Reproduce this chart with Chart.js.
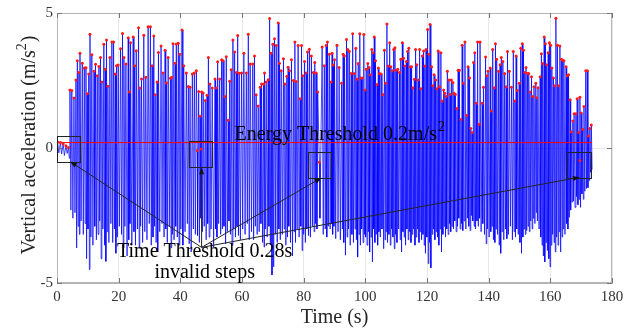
<!DOCTYPE html>
<html>
<head>
<meta charset="utf-8">
<script src="https://cdn.jsdelivr.net/npm/chart.js@4.4.1/dist/chart.umd.min.js"></script>
<style>
  html, body { margin: 0; padding: 0; background: #fff; }
</style>
</head>
<body>
<canvas id="accChart" width="639" height="332"></canvas>
<script>
// step peaks (time in s, peak in m/s^2), trough follows each peak
const stepTimes = [
  4.2,4.8,5.5,6.15,6.6,7.1,7.45,8.2,8.85,9.4,
  9.8,10.3,10.7,11.3,12.0,12.5,13.05,13.6,14.1,14.55,
  15.2,15.65,16.05,16.5,17.15,17.8,18.35,18.9,19.3,19.85,
  20.6,21.25,21.7,22.35,23.1,23.45,23.85,24.7,25.2,25.7,
  26.45,26.85,27.4,28.15,28.8,29.55,30.3,30.85,31.4,31.85,
  32.45,32.9,33.75,34.4,35.05,35.5,36.05,36.8,37.2,37.65,
  38.3,38.7,39.35,39.8,40.55,41.1,41.95,42.6,43.15,43.9,
  44.55,45.2,45.95,46.4,46.9,47.4,48.1,48.65,49.1,49.6,
  50.35,51.25,51.65,52.1,52.75,53.4,53.85,54.45,54.9,55.55,
  56.0,56.5,57.05,57.6,58.15,58.6,59.1,59.85,60.6,61.4,
  62.05,62.65,63.5,64.05,64.6,65.25,65.9,66.35,67.0,67.3,
  67.85,68.5,68.95,69.45,70.0,70.55,71.1,71.75,72.15,72.7,
  73.45,73.9,74.55,74.95,75.4,76.05,76.7,77.15,77.55,78.2,
  78.85,79.3,79.7,80.3,80.8,81.25,81.85,82.5,83.15,83.6,
  84.05,84.55,86.0,86.7,87.3,87.7,88.3,88.9,89.2,89.6,
  90.0,90.8,91.5,92.3,92.8,93.2,93.9,94.3,94.8,95.4,
  95.9,96.4,96.9,97.3,97.7,98.2,98.6,99.0,99.5,99.9,
  100.3,100.8,101.2,101.6,102.1,102.5,102.9,103.3,103.8,104.2,
  104.6,105.1,105.7,106.2,106.6,107.0,107.4,107.9,108.3,108.7,
  109.2,109.6,110.0,110.5,111.1,111.5,112.0,112.4,112.8,113.3,
  113.7,114.1,114.6,115.0,115.4,115.9,116.3,116.7,117.2,117.6,
  118.0,118.5,118.9,119.3,119.7,120.2,120.6,121.0,121.5,121.9,
  122.3,122.8,123.2,123.6,124.1,124.5,124.9,125.4,125.8,126.2,
  126.6,127.1,127.5,127.9,128.4,128.8,129.2,129.7,130.1,130.5,
  131.0,131.4,131.8,132.3,132.9,133.3,133.8,134.2,134.6,135.1,
  135.5,136.0,136.4,136.9,137.2,137.9,138.3,139.0,139.4,139.8,
  140.5,140.9,141.3,141.8,142.2,142.6,143.2,143.7,144.1,144.6,
  145.2,145.7,146.1,146.7,147.4,148.0,148.5,148.9,149.3,149.9,
  150.4,150.9,151.3,151.7,152.1,152.6,153.0,153.4,153.9,154.3,
  154.7,155.3,155.6,156.0,156.7,157.1,157.5,158.0,158.4,158.8,
  159.3,159.7,160.1,160.5,161.0,161.4,161.8,162.3,162.7,163.1,
  163.6,164.0,164.4,165.1,165.5,165.9,166.4,166.8,167.3,167.7,
  168.3,168.7,169.2,169.6,170.0,170.5,170.9,171.5,172.0,172.4,
  172.8,173.3
];
const stepPeaks = [
  2.15,2.13,1.85,2.52,3.23,2.80,3.51,3.14,2.96,2.97,
  2.01,2.74,4.21,3.45,2.84,3.10,2.68,3.02,3.35,2.44,
  3.84,2.92,4.00,2.29,3.35,3.93,3.93,2.74,3.05,3.07,
  3.68,4.24,3.35,3.11,4.08,2.07,3.90,4.11,3.05,3.60,
  4.45,2.22,2.56,4.18,2.62,4.49,4.49,3.05,4.15,1.97,
  2.44,3.54,3.78,2.78,3.62,2.41,3.35,2.58,2.62,3.86,
  3.14,3.85,3.88,3.47,4.37,3.05,2.78,2.28,2.25,2.74,
  2.78,2.86,2.09,1.18,2.07,2.04,1.76,1.95,3.35,2.37,
  2.22,2.56,2.22,3.19,2.56,3.27,3.23,1.91,3.38,1.03,
  2.47,2.90,4.00,3.56,2.80,4.17,2.77,2.78,3.51,2.78,
  4.21,3.11,3.11,3.41,1.97,1.56,2.25,2.37,2.37,2.78,
  2.44,2.53,4.80,3.51,3.84,4.05,3.80,4.63,3.14,2.86,
  3.31,2.37,2.66,2.99,2.86,3.27,2.50,3.93,2.46,3.80,
  1.82,3.80,2.68,3.20,2.78,3.56,3.66,3.41,2.80,3.17,
  2.78,2.07,3.74,3.05,3.80,3.93,3.47,2.44,3.51,3.07,
  3.27,3.81,2.98,2.40,3.47,3.41,4.02,3.65,3.57,2.76,
  4.23,2.76,3.69,2.55,3.13,4.23,2.59,2.59,4.20,2.15,
  2.92,3.13,2.98,2.71,3.65,3.53,4.11,3.23,2.35,2.96,
  2.76,2.74,1.98,3.62,2.40,4.59,3.04,3.90,3.01,2.86,
  3.65,3.71,2.88,2.92,2.80,3.29,3.90,3.32,3.04,3.20,
  3.57,3.69,3.01,3.01,2.23,2.55,3.65,3.08,2.52,3.65,
  2.19,3.41,3.59,3.04,3.65,4.39,3.47,4.57,3.01,2.31,
  2.71,2.52,2.19,3.59,2.27,3.53,1.74,2.15,2.03,1.91,
  2.84,2.52,1.98,2.52,2.43,2.03,1.98,1.46,2.88,2.88,
  1.06,3.81,2.40,3.93,1.21,3.01,2.59,0.72,0.57,3.17,
  3.53,1.66,3.93,0.88,3.93,1.66,2.25,3.37,2.68,2.84,
  2.96,1.37,3.65,2.23,3.86,3.29,2.84,3.08,3.35,3.20,
  2.76,2.27,3.57,2.84,2.25,3.57,1.74,3.41,2.13,2.40,
  3.69,3.86,3.62,2.80,2.98,2.76,2.76,2.07,2.64,1.91,
  2.27,2.40,1.86,2.23,2.64,3.49,3.13,4.11,3.86,3.08,
  3.53,3.90,3.81,2.96,2.59,2.31,4.81,3.81,2.31,3.78,
  3.29,3.25,3.23,3.01,2.68,2.71,1.79,0.60,1.00,1.27,
  1.27,1.82,0.57,1.88,1.30,0.69,1.54,2.86,2.86,0.44,
  0.72,0.85
];
const stepTroughs = [
  -2.3,-2.6,-2.4,-3.7,-2.9,-3.2,-2.7,-3.2,-2.8,-4.1,
  -3.0,-4.5,-3.3,-3.6,-2.9,-3.4,-3.2,-2.7,-4.1,-3.0,
  -3.6,-4.2,-3.1,-3.5,-2.8,-3.5,-3.0,-3.9,-3.3,-2.9,
  -3.2,-3.7,-2.9,-4.0,-3.4,-2.8,-3.6,-3.1,-3.6,-3.0,
  -3.7,-2.9,-3.5,-3.1,-3.4,-2.8,-3.6,-3.3,-2.9,-3.5,
  -3.85,-3.1,-2.8,-3.3,-3.0,-3.5,-2.9,-3.7,-3.2,-3.4,
  -2.9,-3.3,-3.6,-3.0,-3.6,-3.1,-2.8,-3.55,-3.85,-3.0,
  -3.2,-3.24,-3.5,-2.6,-3.1,-2.9,-3.4,-2.8,-3.3,-3.0,
  -3.67,-3.0,-3.3,-2.8,-3.2,-3.0,-2.9,-3.55,-3.1,-2.7,
  -3.2,-3.6,-3.0,-3.3,-2.9,-3.24,-3.4,-3.0,-3.2,-2.8,
  -3.4,-3.1,-3.4,-2.9,-3.2,-3.1,-2.8,-3.5,-3.67,-3.0,
  -3.3,-2.9,-3.6,-4.7,-4.4,-3.2,-3.5,-3.0,-3.4,-3.2,
  -3.0,-3.6,-3.3,-2.9,-3.5,-4.0,-3.1,-3.5,-3.0,-3.3,
  -2.9,-3.8,-3.2,-3.5,-3.0,-3.24,-3.3,-2.9,-3.1,-2.8,
  -3.0,-2.6,-3.2,-3.0,-3.3,-2.9,-3.0,-2.8,-3.2,-2.9,
  -3.36,-3.1,-3.4,-3.0,-3.5,-3.97,-3.3,-3.0,-3.6,-3.2,
  -3.5,-3.0,-3.4,-4.04,-3.2,-3.6,-3.0,-3.5,-3.2,-3.3,
  -3.6,-3.1,-3.85,-3.3,-4.22,-3.0,-3.5,-3.2,-3.6,-3.1,
  -3.3,-3.0,-3.73,-3.4,-3.1,-3.5,-3.2,-3.6,-3.0,-3.3,
  -3.73,-3.2,-3.5,-3.0,-3.4,-3.85,-3.1,-3.3,-3.6,-3.0,
  -3.4,-3.1,-3.5,-3.2,-3.0,-3.6,-3.3,-3.0,-3.5,-3.1,
  -3.4,-3.2,-3.6,-3.9,-3.3,-4.28,-3.5,-4.44,-3.2,-3.0,
  -3.4,-3.1,-3.3,-3.6,-3.0,-3.85,-3.2,-2.9,-3.3,-3.0,
  -3.2,-2.8,-3.1,-2.9,-3.0,-2.7,-3.1,-2.9,-2.6,-3.0,
  -2.8,-3.06,-2.7,-3.0,-2.6,-2.9,-3.06,-2.5,-2.7,-2.9,
  -3.0,-2.7,-2.9,-2.6,-3.1,-2.8,-3.2,-3.55,-3.0,-3.3,
  -3.1,-2.9,-3.4,-3.5,-3.0,-3.2,-3.6,-3.9,-3.1,-3.4,
  -3.0,-3.36,-3.2,-2.9,-3.4,-3.1,-3.3,-3.0,-3.2,-3.5,
  -3.9,-3.3,-3.0,-3.2,-3.06,-2.9,-3.1,-2.7,-3.0,-2.6,
  -2.8,-2.39,-2.7,-3.0,-3.3,-3.6,-4.0,-4.22,-3.5,-3.8,
  -4.1,-4.4,-3.6,-3.2,-3.5,-3.85,-3.3,-3.6,-3.1,-3.85,
  -3.3,-3.0,-3.2,-2.8,-3.0,-2.57,-2.3,-2.0,-1.96,-2.2,
  -1.8,-2.1,-1.9,-2.2,-1.7,-1.9,-1.6,-1.5,-1.47,-1.2,
  -0.9,-0.8
];

// small wiggles before walking starts
const preTimes = [0.2, 0.6, 1.1, 1.5, 2.0, 2.4, 2.9, 3.3, 3.7, 4.0];
const preVals = [0.22, -0.18, 0.2, -0.22, 0.15, -0.28, 0.08, -0.2, 0.02, -0.38];

// invalid steps rejected by the time threshold
const invalidTimes = [45.5, 46.8, 85.1, 169.6];
const invalidVals = [-0.09, -0.04, -0.53, -0.46];

const energyThreshold = 0.2;
const thresholdEnd = 173.5;

const xTickVals = [0, 20, 40, 60, 80, 100, 120, 140, 160, 180];
const yTickVals = [-5, 0, 5];

// build the zigzag signal
const signal = [];
const n = Math.min(stepTimes.length, stepPeaks.length, stepTroughs.length);
for (let i = 0; i < n; i++) {
    signal.push({ x: stepTimes[i], y: stepPeaks[i] });
    const tt = i < n - 1 ? (stepTimes[i] + stepTimes[i + 1]) / 2 : stepTimes[i] + 0.25;
    signal.push({ x: tt, y: stepTroughs[i] });
}
preTimes.forEach((t, i) => signal.push({ x: t, y: preVals[i] }));
invalidTimes.forEach((t, i) => signal.push({ x: t, y: invalidVals[i] }));
signal.sort((a, b) => a.x - b.x);

const markers = [];
for (let i = 0; i < n; i++) markers.push({ x: stepTimes[i], y: stepPeaks[i] });
preTimes.forEach((t, i) => { if (preVals[i] > 0) markers.push({ x: t, y: preVals[i] }); });
invalidTimes.forEach((t, i) => markers.push({ x: t, y: invalidVals[i] }));

const serif = '"Liberation Serif", "Times New Roman", serif';

const annotate = {
    id: 'annotate',
    afterDatasetsDraw(chart) {
        const { ctx, chartArea: a, scales: { x, y } } = chart;
        const px = v => x.getPixelForValue(v);
        const py = v => y.getPixelForValue(v);
        ctx.save();

        // frame
        ctx.strokeStyle = '#b5b5b5';
        ctx.lineWidth = 1;
        ctx.strokeRect(Math.round(a.left) + 0.5, Math.round(a.top) + 0.5,
            Math.round(a.width) - 1, Math.round(a.height) - 1);

        // inner ticks like matlab
        ctx.strokeStyle = '#777';
        ctx.beginPath();
        xTickVals.forEach(v => {
            const xx = Math.round(px(v)) + 0.5;
            ctx.moveTo(xx, a.bottom); ctx.lineTo(xx, a.bottom - 5);
            ctx.moveTo(xx, a.top); ctx.lineTo(xx, a.top + 5);
        });
        yTickVals.forEach(v => {
            const yy = Math.round(py(v)) + 0.5;
            ctx.moveTo(a.left, yy); ctx.lineTo(a.left + 5, yy);
            ctx.moveTo(a.right, yy); ctx.lineTo(a.right - 5, yy);
        });
        ctx.stroke();

        // boxes around invalid steps
        const boxes = [[0, 7.4, 0.45, -0.5], [42.7, 50.2, 0.27, -0.71],
                       [81.3, 88.9, -0.13, -1.1], [165.3, 173.2, -0.13, -1.08]];
        const tipsX = [4.2, 46.9, 85.8, 169.6];
        ctx.strokeStyle = '#222';
        ctx.lineWidth = 1;
        boxes.forEach(b => {
            ctx.strokeRect(Math.round(px(b[0])) + 0.5, Math.round(py(b[2])) + 0.5,
                Math.round(px(b[1]) - px(b[0])), Math.round(py(b[3]) - py(b[2])));
        });

        // arrows from the label
        const ox = px(46.9), oy = py(-3.68);
        ctx.fillStyle = '#111';
        boxes.forEach((b, i) => {
            const tx = px(tipsX[i]), ty = py(b[3]);
            const ang = Math.atan2(ty - oy, tx - ox);
            ctx.beginPath();
            ctx.moveTo(ox, oy);
            ctx.lineTo(tx - 5 * Math.cos(ang), ty - 5 * Math.sin(ang));
            ctx.stroke();
            ctx.beginPath();
            ctx.moveTo(tx, ty);
            ctx.lineTo(tx - 7 * Math.cos(ang) + 2.5 * Math.sin(ang), ty - 7 * Math.sin(ang) - 2.5 * Math.cos(ang));
            ctx.lineTo(tx - 7 * Math.cos(ang) - 2.5 * Math.sin(ang), ty - 7 * Math.sin(ang) + 2.5 * Math.cos(ang));
            ctx.closePath();
            ctx.fill();
        });

        // texts
        ctx.fillStyle = '#000';
        ctx.textBaseline = 'alphabetic';
        ctx.font = '20px ' + serif;
        ctx.textAlign = 'left';
        const eText = 'Energy Threshold 0.2m/s';
        const ex = px(57.6), ey = py(0.31);
        ctx.fillText(eText, ex, ey);
        const ew = ctx.measureText(eText).width;
        ctx.font = '14px ' + serif;
        ctx.fillText('2', ex + ew + 1, ey - 9);

        ctx.font = '20px ' + serif;
        ctx.textAlign = 'center';
        ctx.fillText('Time Threshold 0.28s', px(47.9), py(-4.04));
        ctx.fillText('invalid steps', px(47.9), py(-4.82));

        // axis titles
        ctx.fillStyle = '#262626';
        ctx.fillText('Time (s)', (a.left + a.right) / 2, a.bottom + 40);

        ctx.translate(35, (a.top + a.bottom) / 2 - 3);
        ctx.rotate(-Math.PI / 2);
        ctx.textAlign = 'left';
        const p1 = 'Vertical acceleration (m/s';
        ctx.font = '20px ' + serif;
        const w1 = ctx.measureText(p1).width;
        const w3 = ctx.measureText(')').width;
        ctx.font = '14px ' + serif;
        const w2 = ctx.measureText('2').width + 1;
        let sx = -(w1 + w2 + w3) / 2;
        ctx.font = '20px ' + serif;
        ctx.fillText(p1, sx, 0);
        ctx.font = '14px ' + serif;
        ctx.fillText('2', sx + w1, -9);
        ctx.font = '20px ' + serif;
        ctx.fillText(')', sx + w1 + w2, 0);

        ctx.restore();
    }
};

const ctx = document.getElementById('accChart').getContext('2d');
const accChart = new Chart(ctx, {
    type: 'line',
    data: {
        datasets: [{
            label: 'Vertical acceleration',
            data: signal,
            borderColor: 'rgba(0, 0, 255, 0.72)',
            borderWidth: 1,
            pointRadius: 0,
            tension: 0,
            order: 3
        }, {
            label: 'Energy threshold',
            data: [{ x: 0, y: energyThreshold }, { x: thresholdEnd, y: energyThreshold }],
            borderColor: '#ff0000',
            borderWidth: 1,
            pointRadius: 0,
            order: 2
        }, {
            label: 'Peaks',
            data: markers,
            showLine: false,
            pointRadius: 1.5,
            pointBackgroundColor: '#ff1a1a',
            pointBorderWidth: 0,
            order: 1
        }]
    },
    options: {
        responsive: false,
        animation: false,
        events: [],
        layout: { padding: { top: 10, right: 27, left: 0, bottom: 0 } },
        plugins: { legend: { display: false }, tooltip: { enabled: false } },
        scales: {
            x: {
                type: 'linear',
                min: 0,
                max: 180,
                afterBuildTicks: s => { s.ticks = xTickVals.map(v => ({ value: v })); },
                afterFit: s => { s.height = 49; },
                ticks: { color: '#333', font: { family: serif, size: 15 }, padding: 5, maxRotation: 0 },
                grid: { color: '#e8e8e8', drawTicks: false },
                border: { color: '#b5b5b5' }
            },
            y: {
                min: -5,
                max: 5,
                afterBuildTicks: s => { s.ticks = yTickVals.map(v => ({ value: v })); },
                afterFit: s => { s.width = 57; },
                ticks: { color: '#333', font: { family: serif, size: 15 }, padding: 4 },
                grid: { color: '#e8e8e8', drawTicks: false },
                border: { color: '#b5b5b5' }
            }
        }
    },
    plugins: [annotate]
});
</script>
</body>
</html>
